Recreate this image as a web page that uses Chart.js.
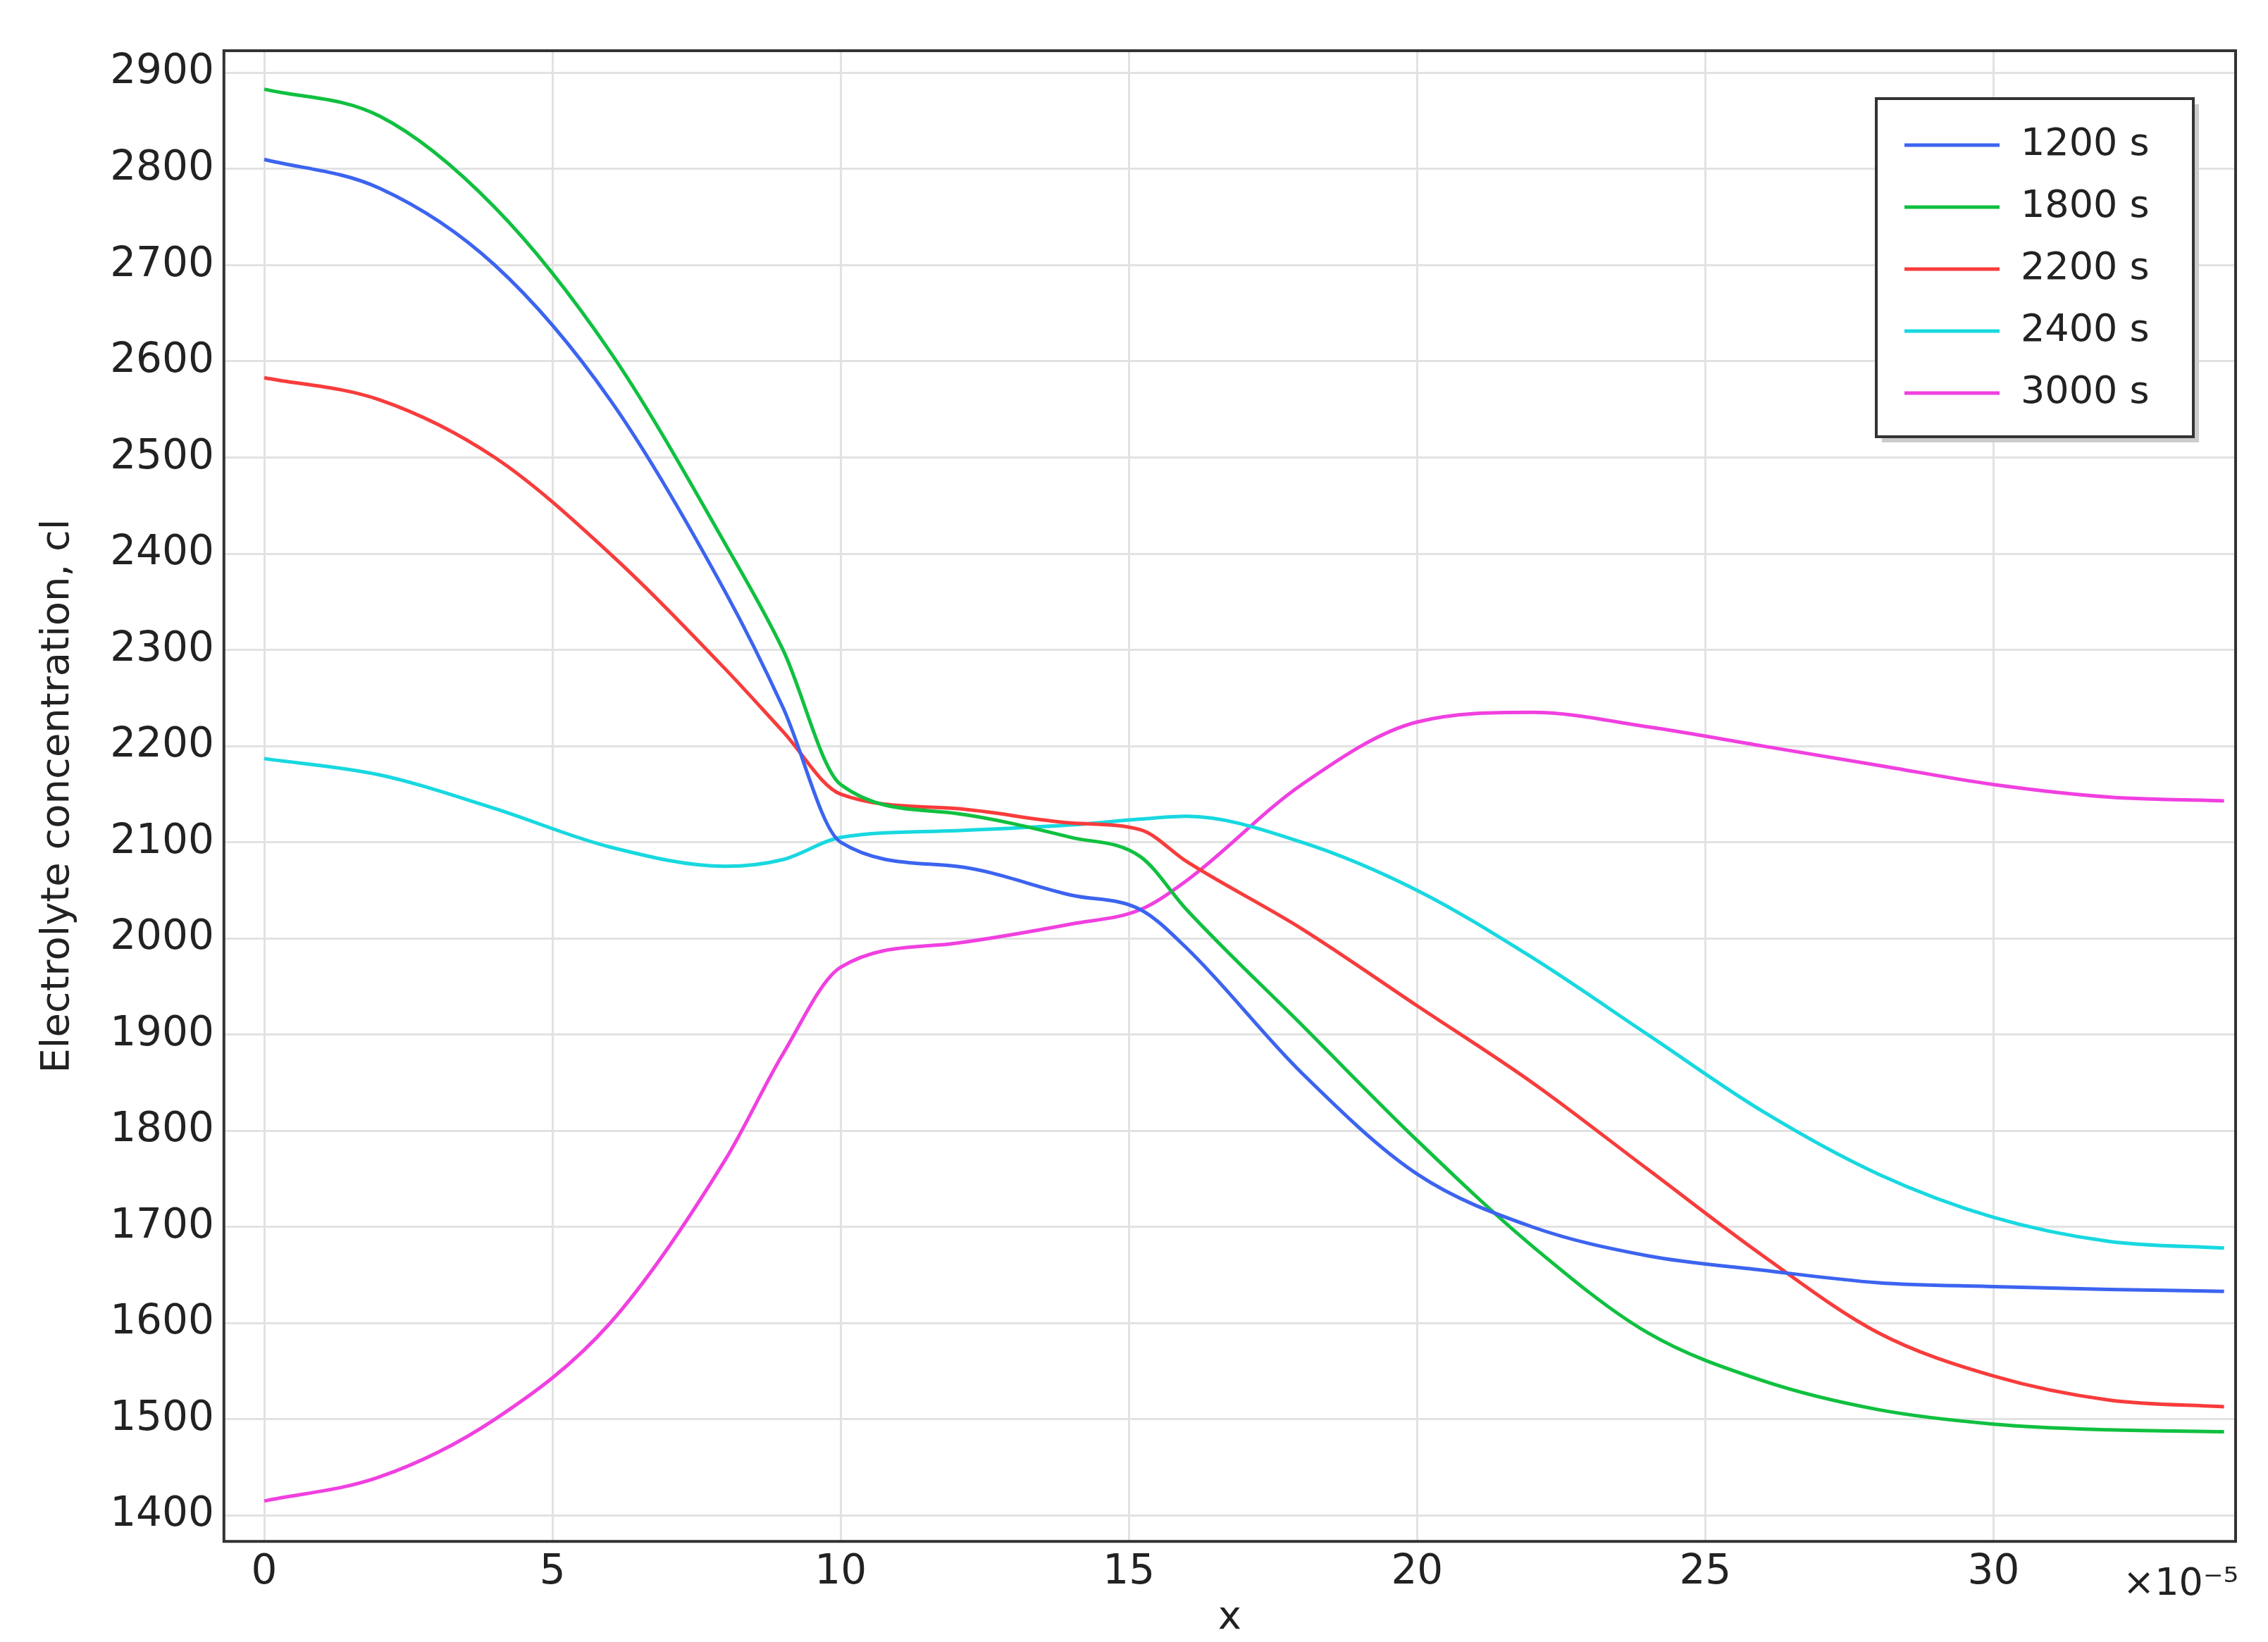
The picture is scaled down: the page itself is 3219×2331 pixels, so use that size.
<!DOCTYPE html>
<html><head><meta charset="utf-8">
<script src="https://cdn.jsdelivr.net/npm/chart.js@4"></script>
<style>html,body{margin:0;background:#fff}#c{display:block}</style>
</head><body>
<canvas id="c" width="3219" height="2331"></canvas>
<script>
// x in units of 1e-5
const xs = [0, 2, 4, 6, 8, 9, 10, 12, 14, 15.2, 16, 18, 20, 22, 24, 26, 28, 30, 32, 34];
const s1200 = [2810, 2780, 2700, 2560, 2360, 2240, 2100, 2075, 2045, 2030, 1990, 1860, 1755, 1700, 1670, 1655, 1642, 1638, 1635, 1633];
const s1800 = [2883, 2855, 2760, 2610, 2410, 2300, 2160, 2130, 2105, 2085, 2030, 1910, 1790, 1680, 1590, 1540, 1510, 1495, 1489, 1487];
const s2200 = [2583, 2560, 2500, 2400, 2280, 2215, 2150, 2135, 2120, 2113, 2080, 2010, 1930, 1850, 1760, 1670, 1590, 1545, 1520, 1513];
const s2400 = [2187, 2170, 2135, 2095, 2075, 2082, 2105, 2112, 2118, 2124, 2127, 2100, 2050, 1980, 1900, 1820, 1755, 1710, 1685, 1678];
const s3000 = [1415, 1440, 1500, 1600, 1770, 1880, 1970, 1995, 2015, 2030, 2060, 2160, 2225, 2235, 2220, 2200, 2180, 2160, 2147, 2143];
const labels = ['1200 s', '1800 s', '2200 s', '2400 s', '3000 s'];
const colors = ['#3c64f0', '#10c040', '#f83c3c', '#18d8e0', '#f040e0'];
const series = [s1200, s1800, s2200, s2400, s3000];

Chart.defaults.font.family = 'DejaVu Sans';
Chart.defaults.color = '#222';

const legendBox = {
  id: 'legendBox',
  afterDraw(chart) {
    const { ctx, chartArea } = chart;
    const w = 450, h = 480, x = chartArea.right - 60 - w, y = chartArea.top + 68;
    ctx.save();
    ctx.fillStyle = '#ccc';
    ctx.fillRect(x + 8, y + 8, w, h);
    ctx.fillStyle = '#fff';
    ctx.fillRect(x, y, w, h);
    ctx.strokeStyle = '#333';
    ctx.lineWidth = 4;
    ctx.strokeRect(x, y, w, h);
    ctx.font = '54px DejaVu Sans';
    ctx.textBaseline = 'middle';
    labels.forEach((t, i) => {
      const yy = y + 66 + i * 88;
      ctx.strokeStyle = colors[i];
      ctx.lineWidth = 5;
      ctx.beginPath();
      ctx.moveTo(x + 40, yy);
      ctx.lineTo(x + 175, yy);
      ctx.stroke();
      ctx.fillStyle = '#222';
      ctx.fillText(t, x + 205, yy);
    });
    ctx.fillText('\u00d710\u207b\u2075', chartArea.right - 160, chartArea.bottom + 62);
    ctx.strokeStyle = '#333';
    ctx.lineWidth = 4;
    ctx.strokeRect(chartArea.left, chartArea.top, chartArea.right - chartArea.left, chartArea.bottom - chartArea.top);
    ctx.restore();
  },
};

new Chart(document.getElementById('c'), {
  type: 'line',
  data: {
    datasets: series.map((s, i) => ({
      label: labels[i],
      data: xs.map((x, j) => ({ x, y: s[j] })),
      borderColor: colors[i],
      borderWidth: 5,
      pointRadius: 0,
      cubicInterpolationMode: 'monotone',
    })),
  },
  options: {
    responsive: false,
    animation: false,
    devicePixelRatio: 1,
    layout: { padding: { top: 72, right: 46, left: 45, bottom: 0 } },
    plugins: { legend: { display: false }, tooltip: { enabled: false } },
    scales: {
      x: {
        type: 'linear', min: -0.7, max: 34.2,
        afterBuildTicks: (ax) => { ax.ticks = [0, 5, 10, 15, 20, 25, 30].map((v) => ({ value: v })); },
        ticks: { font: { size: 58 }, padding: 10, callback: (v) => String(v) },
        grid: { color: '#e2e2e2', lineWidth: 3, drawTicks: false },
        border: { display: false },
        title: { display: true, text: 'x', font: { size: 56 }, padding: { top: -14, bottom: 0 } },
      },
      y: {
        min: 1373, max: 2923,
        afterBuildTicks: (ax) => { const t = []; for (let v = 1400; v <= 2900; v += 100) t.push({ value: v }); ax.ticks = t; },
        ticks: { font: { size: 58 }, padding: 14, callback: (v) => String(v) },
        grid: { color: '#e2e2e2', lineWidth: 3, drawTicks: false },
        border: { display: false },
        title: { display: true, text: 'Electrolyte concentration, cl', font: { size: 56 }, padding: { bottom: 26 } },
      },
    },
  },
  plugins: [legendBox],
});
</script>
</body></html>
